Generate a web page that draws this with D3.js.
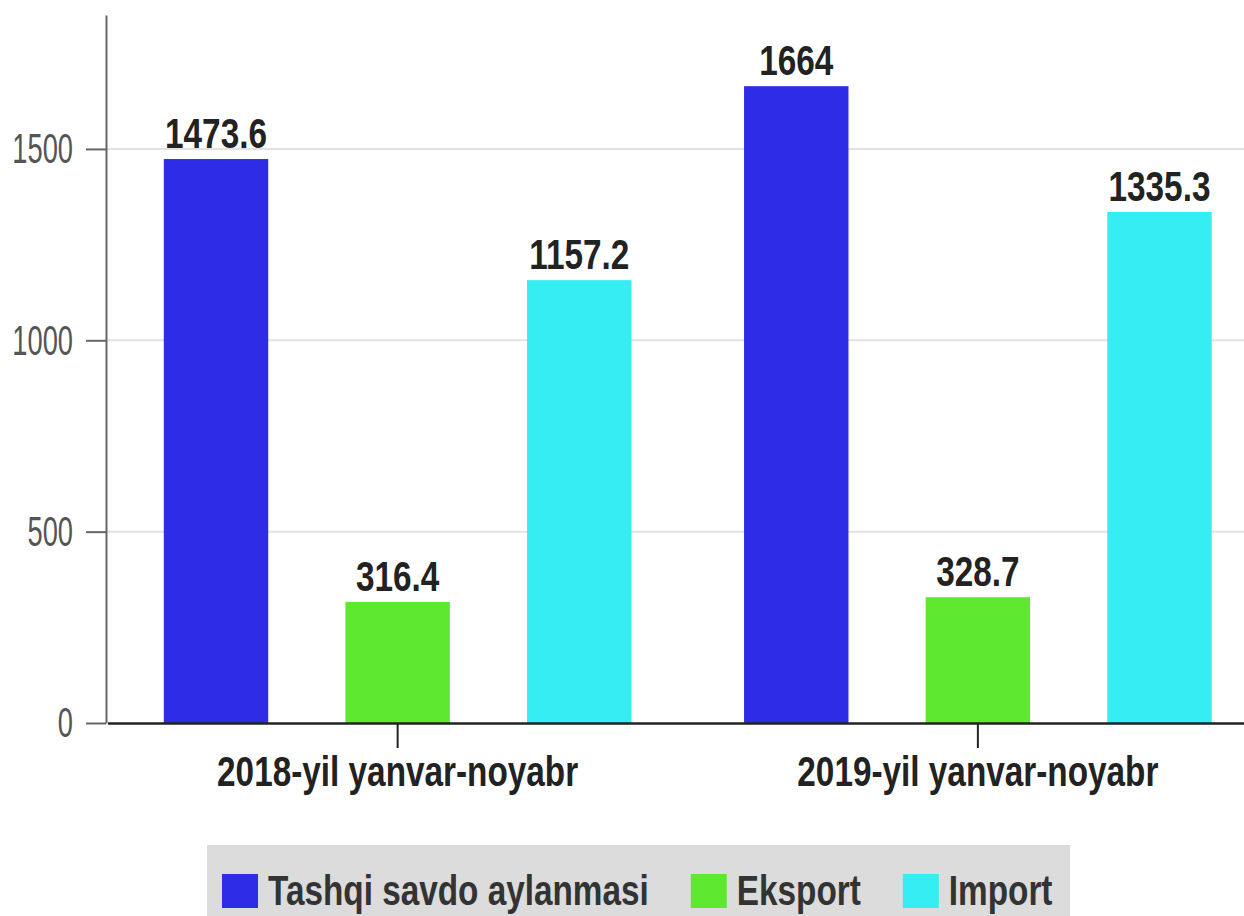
<!DOCTYPE html>
<html>
<head>
<meta charset="utf-8">
<script src="https://cdn.jsdelivr.net/npm/d3@7"></script>
<style>
  body { margin: 0; background: #fff; }
  svg { display: block; }
  text { font-family: "Liberation Sans", Arial, sans-serif; }
</style>
</head>
<body>
<svg id="chart"></svg>
<script>
// data
const periods = ["2018-yil yanvar-noyabr", "2019-yil yanvar-noyabr"];
const seriesNames = ["Tashqi savdo aylanmasi", "Eksport", "Import"];
const savdo = [1473.6, 1664];
const eksport = [316.4, 328.7];
const importVals = [1157.2, 1335.3];
const yTicks = [0, 500, 1000, 1500];
const colors = ["#2f2ce8", "#5fe830", "#35eef3"];

const width = 1244, height = 916;
const svg = d3.select("#chart").attr("width", width).attr("height", height);

const plotLeft = 106, plotBottom = 723, plotTop = 15;

// rows for drawing
const rows = periods.map((p, i) => ({
   period: p,
   values: [savdo[i], eksport[i], importVals[i]]
}));

const x0 = d3.scaleBand().domain(periods).range([plotLeft + 1.5, 1268]).padding(0);
const x1 = d3.scaleBand().domain(seriesNames).range([0, x0.bandwidth()])
   .paddingInner(0.425).paddingOuter(0.31);
const y = d3.scaleLinear().domain([0, 1850]).range([plotBottom, plotTop]);

// gridlines
svg.append("g")
   .selectAll("line")
   .data(yTicks.filter(t => t > 0))
   .enter().append("line")
      .attr("x1", plotLeft).attr("x2", width)
      .attr("y1", d => y(d)).attr("y2", d => y(d))
      .attr("stroke", "#e2e2e2")
      .attr("stroke-width", 2)

// bars
const groups = svg.append("g")
   .selectAll("g")
   .data(rows)
   .enter().append("g")
      .attr("transform", d => `translate(${x0(d.period)},0)`)

groups.selectAll("rect")
   .data(d => d.values.map((v, k) => ({name: seriesNames[k], value: v, k: k})))
   .enter().append("rect")
      .attr("x", d => x1(d.name))
      .attr("width", x1.bandwidth())
      .attr("y", d => y(d.value))
      .attr("height", d => plotBottom - y(d.value))
      .attr("fill", d => colors[d.k])

// value labels (condensed look via scaleX)
groups.selectAll("text")
   .data(d => d.values.map((v, k) => ({name: seriesNames[k], value: v})))
   .enter().append("text")
      .attr("transform", d => `translate(${x1(d.name) + x1.bandwidth() / 2},${y(d.value) - 11}) scale(0.775,1)`)
      .attr("text-anchor", "middle")
      .attr("font-size", 43)
      .attr("font-weight", "bold")
      .attr("fill", "#222")
      .text(d => d.value)

// y axis
const yAxis = svg.append("g")
   .attr("transform", `translate(${plotLeft},0)`)
   .call(d3.axisLeft(y).tickValues(yTicks).tickFormat(d3.format("d")).tickSize(20).tickSizeOuter(0))
yAxis.select(".domain").attr("stroke", "#666").attr("stroke-width", 2)
yAxis.selectAll(".tick line").attr("stroke", "#666").attr("stroke-width", 2)
yAxis.selectAll(".tick text")
   .attr("x", -33 / 0.65)
   .attr("dy", "0.33em")
   .attr("transform", "scale(0.65,1)")
   .attr("font-size", 42)
   .attr("fill", "#555")
   .attr("font-family", "Liberation Sans, Arial, sans-serif")

// x axis
const xAxis = svg.append("g")
   .attr("transform", `translate(0,${plotBottom})`)
   .call(d3.axisBottom(x0).tickSize(25).tickSizeOuter(0))
xAxis.select(".domain").attr("stroke", "#222").attr("stroke-width", 2.5)
xAxis.selectAll(".tick line").attr("stroke", "#222").attr("stroke-width", 2)
xAxis.selectAll(".tick text")
   .attr("y", 63)
   .attr("dy", 0)
   .attr("transform", "scale(0.775,1)")
   .attr("font-size", 43)
   .attr("font-weight", "bold")
   .attr("fill", "#222")
   .attr("font-family", "Liberation Sans, Arial, sans-serif")

// legend
const legend = svg.append("g")
legend.append("rect")
   .attr("x", 207).attr("y", 845)
   .attr("width", 863).attr("height", 80)
   .attr("fill", "#dcdcdc")

let lx = 222;
seriesNames.forEach((name, k) => {
   legend.append("rect")
      .attr("x", lx).attr("y", 874)
      .attr("width", 36).attr("height", 34)
      .attr("fill", colors[k])
   const t = legend.append("text")
      .attr("transform", `translate(${lx + 46},905) scale(0.775,1)`)
      .attr("font-size", 43)
      .attr("font-weight", "bold")
      .attr("fill", "#333")
      .text(name)
   lx += 46 + t.node().getComputedTextLength() * 0.775 + 42;
})
</script>
</body>
</html>
